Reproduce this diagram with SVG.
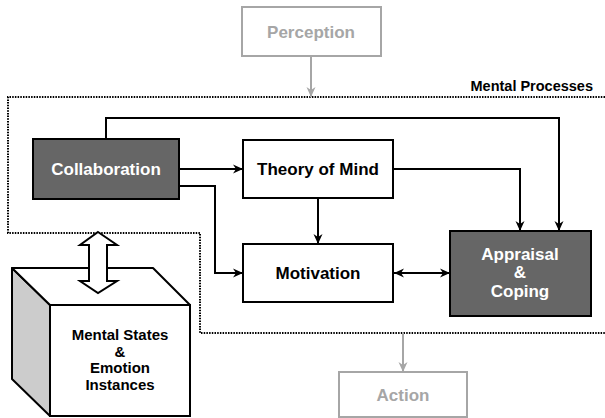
<svg xmlns="http://www.w3.org/2000/svg" width="605" height="418" viewBox="0 0 605 418">
<style>
text{font-family:"Liberation Sans",Arial,sans-serif;font-weight:bold;text-anchor:middle}
.box{fill:#fff;stroke:#000;stroke-width:2}
.dark{fill:#666;stroke:#000;stroke-width:2}
.gbox{fill:#fff;stroke:#a6a6a6;stroke-width:2}
.t{font-size:17px;fill:#000}
.tw{font-size:17px;fill:#fff}
.tg{font-size:17px;fill:#a6a6a6}
.c{fill:none;stroke:#000;stroke-width:2}
.cg{fill:none;stroke:#a6a6a6;stroke-width:2}
</style>
<defs>
<marker id="ah" viewBox="0 0 10 10" refX="10" refY="5" markerWidth="11" markerHeight="10" markerUnits="userSpaceOnUse" orient="auto-start-reverse">
<path d="M0,0.5 L10,5 L0,9.5 L3,5 z" fill="#000"/>
</marker>
<marker id="ahg" viewBox="0 0 10 10" refX="10" refY="5" markerWidth="11" markerHeight="10" markerUnits="userSpaceOnUse" orient="auto">
<path d="M0,0.5 L10,5 L0,9.5 L3,5 z" fill="#a6a6a6"/>
</marker>
</defs>

<g id="boundary">
<path d="M605,97 H8 V233 H200 V333 H605" fill="none" stroke="#000" stroke-width="2" stroke-dasharray="1.5 1.2"/>
<text x="593" y="91" style="font-size:14.5px;text-anchor:end">Mental Processes</text>
</g>

<g id="connectors">
<path class="cg" d="M311,56 V97" marker-end="url(#ahg)"/>
<path class="cg" d="M403,333 V372" marker-end="url(#ahg)"/>
<path class="c" d="M106,139 V118 H559 V231" marker-end="url(#ah)"/>
<path class="c" d="M393,169 H520 V231" marker-end="url(#ah)"/>
<path class="c" d="M179,169 H243" marker-end="url(#ah)"/>
<path class="c" d="M179,186 H215 V273 H243" marker-end="url(#ah)"/>
<path class="c" d="M318,198 V244" marker-end="url(#ah)"/>
<path class="c" d="M394,273 H450" marker-start="url(#ah)" marker-end="url(#ah)"/>
</g>

<g id="perception">
<rect class="gbox" x="242" y="7" width="139" height="49"/>
<text class="tg" x="311" y="38">Perception</text>
</g>

<g id="collaboration">
<rect class="dark" x="33" y="139" width="146" height="60"/>
<text class="tw" x="106" y="175">Collaboration</text>
</g>

<g id="theory-of-mind">
<rect class="box" x="243" y="140" width="150" height="58"/>
<text class="t" x="318" y="175">Theory of Mind</text>
</g>

<g id="motivation">
<rect class="box" x="243" y="244" width="150" height="58"/>
<text class="t" x="318" y="279">Motivation</text>
</g>

<g id="appraisal">
<rect class="dark" x="450" y="231" width="141" height="85"/>
<text class="tw" x="520" y="260">Appraisal</text>
<text class="tw" x="520" y="278">&amp;</text>
<text class="tw" x="520" y="297">Coping</text>
</g>

<g id="mental-states">
<polygon points="12,268 50,305 50,416 12,379" fill="#ccc" stroke="#000" stroke-width="2" stroke-linejoin="round"/>
<polygon points="12,268 153,268 190,305 50,305" fill="#fff" stroke="#000" stroke-width="2" stroke-linejoin="round"/>
<rect x="50" y="305" width="140" height="111" fill="#fff" stroke="#000" stroke-width="2"/>
<text x="120" y="340" style="font-size:15px">Mental States</text>
<text x="120" y="357" style="font-size:15px">&amp;</text>
<text x="120" y="373" style="font-size:15px">Emotion</text>
<text x="120" y="390" style="font-size:15px">Instances</text>
</g>

<g id="exchange-arrow">
<path d="M98,232 L117,245 H107 V281 H117 L98,293 L80,281 H89 V245 H80 Z" fill="#fff" stroke="#000" stroke-width="2" stroke-linejoin="miter"/>
</g>

<g id="action">
<rect class="gbox" x="339" y="372" width="128" height="45"/>
<text class="tg" x="403" y="401">Action</text>
</g>
</svg>
